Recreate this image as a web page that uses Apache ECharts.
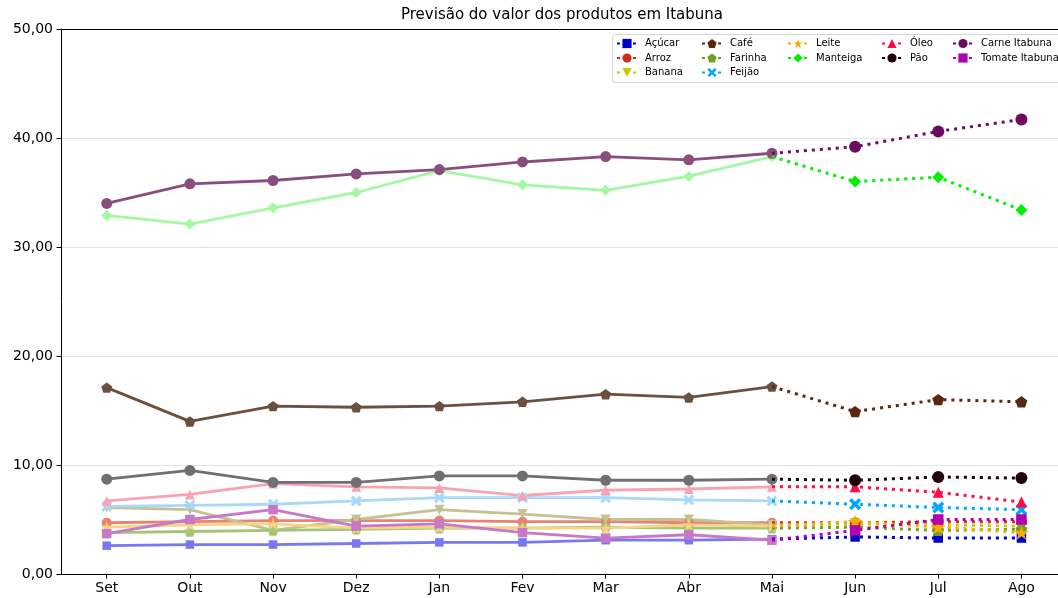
<!DOCTYPE html>
<html>
<head>
<meta charset="utf-8">
<script src="https://cdn.jsdelivr.net/npm/echarts@6/dist/echarts.min.js"></script>
<style>
html,body{margin:0;padding:0;background:#fff;}
#chart{width:1058px;height:598px;}
</style>
</head>
<body>
<div id="chart"></div>
<script>
// ---- Data ----
const months = ['Set','Out','Nov','Dez','Jan','Fev','Mar','Abr','Mai','Jun','Jul','Ago'];
const yTicks = [0, 10, 20, 30, 40, 50];

const acucarHist   = [2.6, 2.7, 2.7, 2.8, 2.9, 2.9, 3.1, 3.1, 3.2];
const acucarPrev   = [3.4, 3.3, 3.3];
const arrozHist    = [4.7, 4.8, 4.9, 4.9, 4.9, 4.8, 4.8, 4.7, 4.7];
const arrozPrev    = [4.7, 4.8, 4.8];
const bananaHist   = [6.1, 5.9, 4.0, 5.0, 5.9, 5.5, 5.0, 5.0, 4.5];
const bananaPrev   = [4.6, 4.5, 4.4];
const cafeHist     = [17.1, 14.0, 15.4, 15.3, 15.4, 15.8, 16.5, 16.2, 17.2];
const cafePrev     = [14.9, 16.0, 15.8];
const farinhaHist  = [3.8, 3.9, 4.0, 4.1, 4.2, 4.2, 4.3, 4.2, 4.2];
const farinhaPrev  = [4.3, 4.0, 4.1];
const feijaoHist   = [6.2, 6.3, 6.4, 6.7, 7.0, 7.0, 7.0, 6.8, 6.7];
const feijaoPrev   = [6.4, 6.1, 5.9];
const leiteHist    = [4.3, 4.5, 4.6, 4.2, 4.3, 4.2, 4.2, 4.5, 4.4];
const leitePrev    = [4.8, 4.3, 3.8];
const manteigaHist = [32.9, 32.1, 33.6, 35.0, 37.0, 35.7, 35.2, 36.5, 38.3];
const manteigaPrev = [36.0, 36.4, 33.4];
const oleoHist     = [6.7, 7.3, 8.3, 8.0, 7.9, 7.2, 7.7, 7.8, 8.0];
const oleoPrev     = [8.0, 7.5, 6.6];
const paoHist      = [8.7, 9.5, 8.4, 8.4, 9.0, 9.0, 8.6, 8.6, 8.7];
const paoPrev      = [8.6, 8.9, 8.8];
const carneHist    = [34.0, 35.8, 36.1, 36.7, 37.1, 37.8, 38.3, 38.0, 38.6];
const carnePrev    = [39.2, 40.6, 41.7];
const tomateHist   = [3.7, 5.0, 5.9, 4.4, 4.6, 3.8, 3.3, 3.6, 3.1];
const tomatePrev   = [4.0, 5.0, 5.0];

const productNames = ['Açúcar','Arroz','Banana','Café','Farinha','Feijão','Leite','Manteiga','Óleo','Pão','Carne Itabuna','Tomate Itabuna'];
const histValues = [acucarHist, arrozHist, bananaHist, cafeHist, farinhaHist, feijaoHist, leiteHist, manteigaHist, oleoHist, paoHist, carneHist, tomateHist];
const prevValues = [acucarPrev, arrozPrev, bananaPrev, cafePrev, farinhaPrev, feijaoPrev, leitePrev, manteigaPrev, oleoPrev, paoPrev, carnePrev, tomatePrev];

// ---- Styles ----
const FONT = 'DejaVu Sans';
const histColors = ['#7878f0','#e98272','#c2c292','#6b4f3f','#a2c674','#a9d9f9','#f8d383','#a4f8a4','#f8a2b4','#707070','#8a4e7e','#c878c8'];
const prevColors = ['#0000cc','#d42a1c','#c8c800','#5a2810','#6ea022','#00a6ff','#ffa800','#00f000','#ff0a45','#220008','#6e0a60','#b000b0'];
const pentagon = 'path://M0,-10 L9.51,-3.09 L5.88,8.09 L-5.88,8.09 L-9.51,-3.09 Z';
const star = 'path://M0,-10 L2.245,-3.09 L9.51,-3.09 L3.633,1.18 L5.88,8.09 L0,3.82 L-5.88,8.09 L-3.633,1.18 L-9.51,-3.09 L-2.245,-3.09 Z';
const xmark = 'path://M-10,-6 L-6,-10 L0,-4 L6,-10 L10,-6 L4,0 L10,6 L6,10 L0,4 L-6,10 L-10,6 L-4,0 Z';
const symbols = ['rect','circle','triangle',pentagon,pentagon,xmark,star,'diamond','triangle','circle','circle','rect'];
const rotates = [0,0,180,0,0,0,0,0,0,0,0,0];
const sizeHist = [8.5,10,10,11,11,11,13,11,10,11,11,9.5];
const sizePrev = [9.5,11,11,12,12,12,15,12,11,12,12,10.5];

const series = [];
productNames.forEach((name, i) => {
  const h = histValues[i];
  series.push({
    name: name + ' (hist)',
    type: 'line',
    data: h.map((v, k) => [k, v]),
    symbol: symbols[i],
    symbolRotate: rotates[i],
    symbolKeepAspect: true,
    symbolSize: sizeHist[i],
    showAllSymbol: true,
    itemStyle: {color: histColors[i]},
    lineStyle: {color: histColors[i], width: 2.8},
    z: 2,
    animation: false
  });
});
productNames.forEach((name, i) => {
  const h = histValues[i];
  const p = prevValues[i];
  const last = h.length - 1;
  const data = [{value: [last, h[last]], symbol: 'none'}].concat(p.map((v, k) => [last + 1 + k, v]));
  series.push({
    name: name,
    type: 'line',
    data: data,
    symbol: symbols[i],
    symbolRotate: rotates[i],
    symbolKeepAspect: true,
    symbolSize: sizePrev[i],
    showAllSymbol: true,
    itemStyle: {color: prevColors[i]},
    lineStyle: {color: prevColors[i], width: 3, type: [3, 5], cap: 'butt'},
    z: 3,
    animation: false
  });
});

const legendCols = [
  ['Açúcar','Arroz','Banana'],
  ['Café','Farinha','Feijão'],
  ['Leite','Manteiga'],
  ['Óleo','Pão'],
  ['Carne Itabuna','Tomate Itabuna']
];
const legendLeft = [616, 701, 787, 881, 952];
const legends = legendCols.map((cols, c) => ({
  data: cols,
  orient: 'vertical',
  left: legendLeft[c],
  top: 38.5,
  padding: 0,
  itemGap: 4.5,
  itemWidth: 20,
  itemHeight: 11.5,
  selectedMode: false,
  z: 20,
  textStyle: {fontFamily: FONT, fontSize: 10, color: '#000', padding: [0,0,0,3]}
}));

const chart = echarts.init(document.getElementById('chart'), null, {renderer: 'canvas'});
chart.setOption({
  backgroundColor: '#fff',
  animation: false,
  title: {
    text: 'Previsão do valor dos produtos em Itabuna',
    left: 401,
    top: 8,
    padding: 0,
    textStyle: {fontFamily: FONT, fontSize: 15, fontWeight: 'normal', color: '#000'}
  },
  legend: legends,
  graphic: [{
    type: 'rect',
    shape: {x: 612.5, y: 34.5, width: 460, height: 48, r: 3},
    style: {fill: 'rgba(255,255,255,0.85)', stroke: '#d4d4d4', lineWidth: 1},
    z: 10
  }],
  grid: {left: 61, top: 29, width: 997, height: 545, containLabel: false},
  xAxis: [{
    type: 'value',
    min: -0.55,
    max: 11.44,
    position: 'bottom',
    axisLine: {show: true, onZero: false, lineStyle: {color: '#000', width: 1}},
    axisTick: {show: true, length: 4.5, customValues: months.map((m, k) => k), lineStyle: {color: '#000'}},
    axisLabel: {
      customValues: months.map((m, k) => k),
      formatter: v => months[Math.round(v)],
      fontFamily: FONT, fontSize: 14, color: '#000', margin: 7
    },
    splitLine: {show: false}
  }, {
    type: 'value',
    min: -0.55,
    max: 11.44,
    position: 'top',
    axisLine: {show: true, onZero: false, lineStyle: {color: '#000', width: 1}},
    axisTick: {show: false},
    axisLabel: {show: false},
    splitLine: {show: false}
  }],
  yAxis: {
    type: 'value',
    min: yTicks[0],
    max: yTicks[yTicks.length - 1],
    interval: 10,
    axisLine: {show: true, onZero: false, lineStyle: {color: '#000', width: 1}},
    axisTick: {show: true, length: 4.5, lineStyle: {color: '#000'}},
    axisLabel: {
      formatter: v => v.toFixed(2).replace('.', ','),
      fontFamily: FONT, fontSize: 14, color: '#000', margin: 8
    },
    splitLine: {show: true, lineStyle: {color: '#e4e4e4', width: 1}}
  },
  series: series
});
</script>
</body>
</html>
